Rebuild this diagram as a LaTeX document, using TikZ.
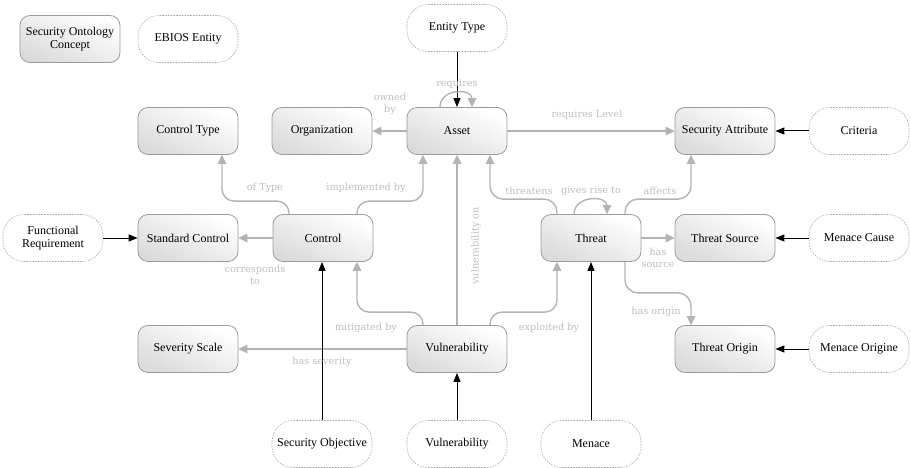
\documentclass[tikz,border=0pt]{standalone}
\usepackage{fontspec}
\setmainfont{Liberation Serif}
\newfontfamily\labelfont{DejaVu Serif}
\usetikzlibrary{arrows.meta,calc}
\definecolor{edgegray}{HTML}{B3B3B3}
\definecolor{labelgray}{HTML}{BDBDBD}
\definecolor{bordergray}{HTML}{9C9C9C}
\definecolor{dashgray}{HTML}{A8A8A8}
\begin{document}
\begin{tikzpicture}[x=1pt,y=-1pt,
  concept/.style={draw=bordergray, line width=0.8pt, rounded corners=10pt,
    minimum width=100pt, minimum height=47pt, top color=white, bottom color=black!14,
    shading angle=-25, align=center, inner sep=2pt,
    font=\fontsize{12}{13.5}\selectfont},
  entity/.style={draw=dashgray, line width=0.6pt, dash pattern=on 1.6pt off 1.2pt,
    rounded corners=21pt, minimum width=100pt, minimum height=47pt, fill=white,
    align=center, inner sep=2pt, font=\fontsize{12}{13.5}\selectfont},
  rel/.style={draw=edgegray, line width=1.4pt, -{Triangle[length=9pt,width=8.5pt]}},
  ent/.style={draw=black, line width=1pt, -{Triangle[length=9pt,width=7pt]}},
  lbl/.style={text=labelgray, align=center, inner sep=0pt,
    font=\labelfont\fontsize{9.7}{12.5}\selectfont}]
\useasboundingbox (0,0) rectangle (911,468);

% nodes
\node[concept] (soc) at (70,39) {Security Ontology\\Concept};
\node[entity] (ebios) at (188,39) {EBIOS Entity};
\node[entity] (etype) at (457,28) {Entity Type};
\node[concept] (ctype) at (188,131) {Control Type};
\node[concept] (org) at (322,131) {Organization};
\node[concept] (asset) at (457,131) {Asset};
\node[concept] (secattr) at (725,131) {Security Attribute};
\node[entity] (criteria) at (859,131) {Criteria};
\node[entity] (freq) at (53,238) {Functional\\Requirement};
\node[concept] (stdctl) at (188,238) {Standard Control};
\node[concept] (ctl) at (323,238) {Control};
\node[concept] (threat) at (591,238) {Threat};
\node[concept] (tsrc) at (725,238) {Threat Source};
\node[entity] (mcause) at (859,238) {Menace Cause};
\node[concept] (sev) at (188,349) {Severity Scale};
\node[concept] (vuln) at (457,349) {Vulnerability};
\node[concept] (torig) at (725,349) {Threat Origin};
\node[entity] (morig) at (859,349) {Menace Origine};
\node[entity] (secobj) at (322,444) {Security Objective};
\node[entity] (evuln) at (457,444) {Vulnerability};
\node[entity] (menace) at (591,444) {Menace};

% connectors
\draw[ent] (etype) -- (asset);
\draw[rel] ([xshift=-17pt]asset.north) .. controls +(0,-19) and +(0,-19) .. ([xshift=15pt]asset.north);
\draw[rel] (asset) -- (org);
\draw[rel] (asset) -- (secattr);
\draw[ent] (criteria) -- (secattr);
\draw[rel, rounded corners=12pt] ([xshift=-34pt]ctl.north) -- ++(0,-13) -| ([xshift=34pt]ctype.south);
\draw[rel, rounded corners=12pt] ([xshift=34pt]ctl.north) -- ++(0,-13) -| ([xshift=-34pt]asset.south);
\draw[rel] (ctl) -- (stdctl);
\draw[ent] (freq) -- (stdctl);
\draw[rel] (vuln) -- (asset);
\draw[rel, rounded corners=12pt] ([xshift=-34pt]vuln.north) -- ++(0,-13) -| ([xshift=34pt]ctl.south);
\draw[rel] (vuln) -- (sev);
\draw[rel, rounded corners=12pt] ([xshift=33pt]vuln.north) -- ++(0,-13) -| ([xshift=-34pt]threat.south);
\draw[ent] (secobj.north) -- (secobj.north |- ctl.south);
\draw[ent] (evuln) -- (vuln);
\draw[ent] (menace) -- (threat);
\draw[rel, rounded corners=13pt] ([xshift=-34pt]threat.north) -- ++(0,-15) -| ([xshift=33pt]asset.south);
\draw[rel] ([xshift=-17pt]threat.north) .. controls +(0,-19) and +(0,-19) .. ([xshift=16pt]threat.north);
\draw[rel, rounded corners=13pt] ([xshift=34pt]threat.north) -- ++(0,-15) -| ([xshift=-34pt]secattr.south);
\draw[rel] (threat) -- (tsrc);
\draw[ent] (mcause) -- (tsrc);
\draw[rel, rounded corners=13pt] ([xshift=34pt]threat.south) -- ++(0,31) -| ([xshift=-34pt]torig.north);
\draw[ent] (morig) -- (torig);

% labels
\node[lbl] (l1) at (457,84) {requires};
\node[lbl] (l2) at (390,104) {owned\\by};
\node[lbl] (l3) at (587,115) {requires Level};
\node[lbl] (l4) at (265,188) {of Type};
\node[lbl] (l5) at (366,188) {implemented by};
\node[lbl] (l6) at (255,275) {corresponds\\to};
\node[lbl, rotate=90] (l7) at (476,246) {vulnerability on};
\node[lbl] (l8) at (366,328) {mitigated by};
\node[lbl] (l9) at (322,362) {has severity};
\node[lbl] (l10) at (549,328) {exploited by};
\node[lbl] (l11) at (529,191) {threatens};
\node[lbl] (l12) at (591,191) {gives rise to};
\node[lbl] (l13) at (660,191) {affects};
\node[lbl] (l14) at (658,258) {has\\source};
\node[lbl] (l15) at (656,312) {has origin};
\end{tikzpicture}
\end{document}
